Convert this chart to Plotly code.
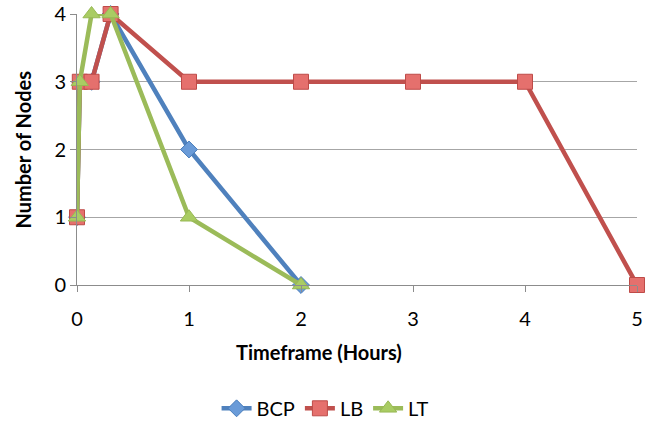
import plotly.graph_objects as go

hours_bcp = [0, 0.025, 0.13, 0.3, 1, 2]
nodes_bcp = [1, 3, 3, 4, 2, 0]

hours_lb = [0, 0.025, 0.13, 0.3, 1, 2, 3, 4, 5]
nodes_lb = [1, 3, 3, 4, 3, 3, 3, 3, 0]

hours_lt = [0, 0.025, 0.13, 0.3, 1, 2]
nodes_lt = [1, 3, 4, 4, 1, 0]

x_ticks = [0, 1, 2, 3, 4, 5]
y_ticks = [0, 1, 2, 3, 4]

FONT = "Lato, 'Open Sans', sans-serif"

fig = go.Figure()
fig.add_trace(go.Scatter(
    x=hours_bcp, y=nodes_bcp, name="BCP", mode="lines+markers",
    line=dict(color="#4F81BD", width=4.5),
    marker=dict(symbol="diamond", size=13, color="#6A9BD8", line=dict(color="#4A7EBB", width=1)),
    cliponaxis=False))
fig.add_trace(go.Scatter(
    x=hours_lb, y=nodes_lb, name="LB", mode="lines+markers",
    line=dict(color="#C0504D", width=4.5),
    marker=dict(symbol="square", size=15, color="#E5706D", line=dict(color="#BE4B48", width=1)),
    cliponaxis=False))
fig.add_trace(go.Scatter(
    x=hours_lt, y=nodes_lt, name="LT", mode="lines+markers",
    line=dict(color="#9BBB59", width=4.5),
    marker=dict(symbol="triangle-up", size=15, color="#A9CC63", line=dict(color="#98B954", width=1)),
    cliponaxis=False))

fig.update_layout(
    width=659, height=421,
    margin=dict(l=77, r=22, t=14, b=136, autoexpand=False),
    paper_bgcolor="white", plot_bgcolor="white",
    font=dict(family=FONT, size=20, color="#000000"),
    showlegend=True,
    legend=dict(orientation="h", x=0.443, xanchor="center", y=-0.455, yanchor="middle",
                font=dict(size=20), itemwidth=30, tracegroupgap=0),
    xaxis=dict(range=[0, 5], tickvals=x_ticks, showgrid=False, zeroline=False,
               showline=True, linecolor="#8C8C8C", linewidth=1, automargin=False,
               ticks="outside", ticklen=6, tickcolor="#8C8C8C",
               ticklabelstandoff=10),
    yaxis=dict(range=[0, 4], tickvals=y_ticks, showgrid=True, gridcolor="#A6A6A6", gridwidth=1,
               zeroline=False, showline=True, linecolor="#8C8C8C", linewidth=1, automargin=False,
               ticks="outside", ticklen=6, tickcolor="#8C8C8C",
               ticksuffix="\u2007\u200b"),
    annotations=[
        dict(text="<b>Timeframe (Hours)</b>", xref="paper", yref="paper",
             x=(319 - 77) / 560, y=(285 - 352) / 271, xanchor="center", yanchor="middle",
             showarrow=False, font=dict(size=20)),
        dict(text="<b>Number of Nodes</b>", xref="paper", yref="paper",
             x=(22 - 77) / 560, y=0.5, xanchor="center", yanchor="middle",
             textangle=-90, showarrow=False, font=dict(size=20)),
    ],
)

fig.write_html("out.html")
